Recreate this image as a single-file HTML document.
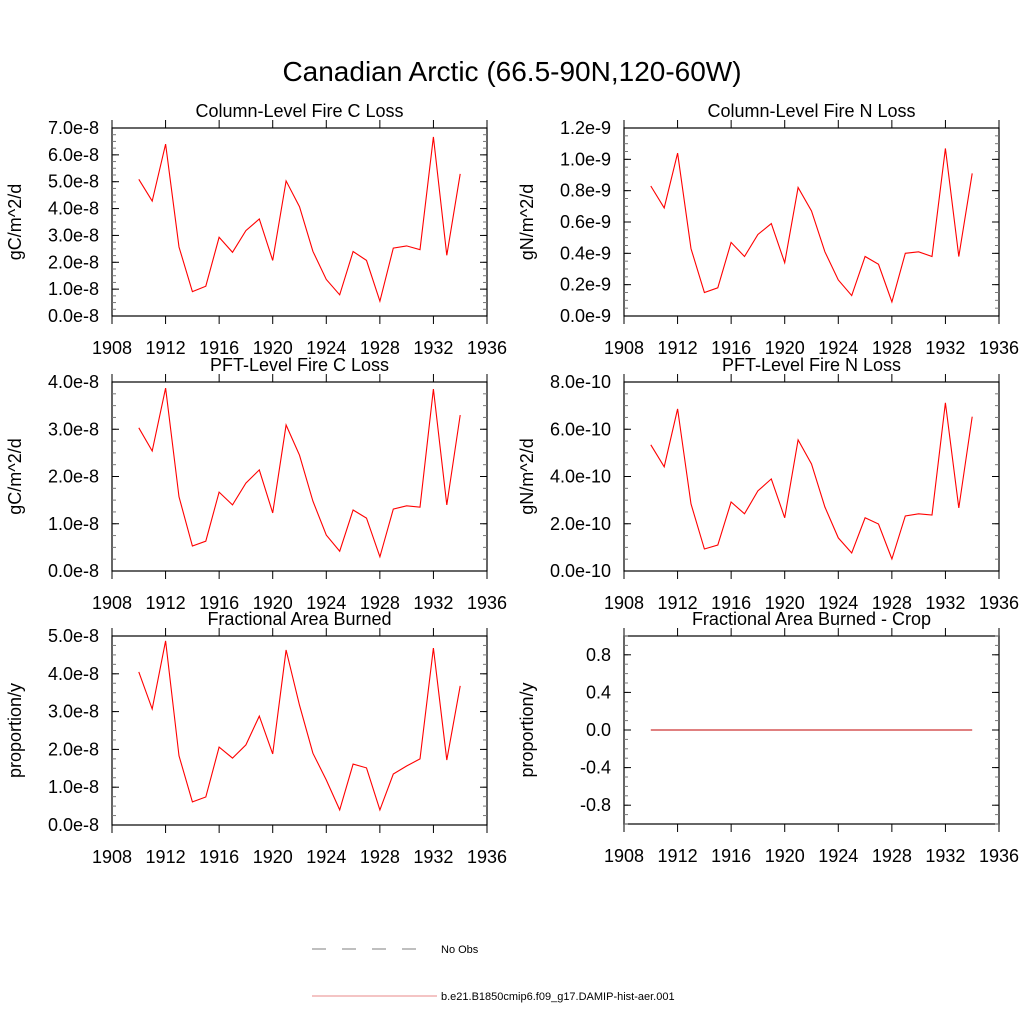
<!DOCTYPE html>
<html><head><meta charset="utf-8"><style>
body{margin:0;background:#fff;}
svg{display:block;font-family:"Liberation Sans",Arial,sans-serif;}
</style></head><body>
<svg id="c" width="1024" height="1024" viewBox="0 0 1024 1024">
<text x="512" y="81" font-size="28" text-anchor="middle">Canadian Arctic (66.5-90N,120-60W)</text>
<line x1="312" y1="949" x2="432" y2="949" stroke="#555" stroke-width="0.8" stroke-dasharray="14,16"/>
<text x="441" y="953" font-size="11">No Obs</text>
<line x1="312" y1="996" x2="437" y2="996" stroke="#e06060" stroke-width="0.8"/>
<text x="441" y="1000" font-size="11">b.e21.B1850cmip6.f09_g17.DAMIP-hist-aer.001</text>
</svg>
<script>
const years=[1910,1911,1912,1913,1914,1915,1916,1917,1918,1919,1920,1921,1922,1923,1924,1925,1926,1927,1928,1929,1930,1931,1932,1933,1934];
const colC=[5.09,4.28,6.40,2.57,0.91,1.11,2.93,2.37,3.18,3.61,2.07,5.03,4.07,2.41,1.36,0.79,2.40,2.07,0.55,2.53,2.61,2.47,6.67,2.26,5.29];
const colN=[0.83,0.69,1.04,0.43,0.15,0.18,0.47,0.38,0.52,0.59,0.34,0.82,0.67,0.41,0.23,0.13,0.38,0.33,0.09,0.40,0.41,0.38,1.07,0.38,0.91];
const pftC=[3.03,2.54,3.87,1.57,0.53,0.63,1.67,1.40,1.86,2.14,1.23,3.09,2.45,1.48,0.76,0.42,1.29,1.12,0.30,1.31,1.38,1.35,3.85,1.40,3.30];
const pftN=[5.34,4.41,6.86,2.84,0.93,1.10,2.92,2.42,3.39,3.90,2.25,5.55,4.53,2.71,1.40,0.76,2.25,1.99,0.51,2.33,2.42,2.37,7.12,2.67,6.53];
const fab=[4.05,3.07,4.87,1.83,0.61,0.74,2.06,1.77,2.12,2.88,1.88,4.63,3.17,1.90,1.19,0.40,1.61,1.51,0.40,1.35,1.56,1.75,4.68,1.72,3.68];
const crop=[0,0,0,0,0,0,0,0,0,0,0,0,0,0,0,0,0,0,0,0,0,0,0,0,0];
const xTicks=[1908,1912,1916,1920,1924,1928,1932,1936];
const ticksColC=["0.0e-8","1.0e-8","2.0e-8","3.0e-8","4.0e-8","5.0e-8","6.0e-8","7.0e-8"];
const ticksColN=["0.0e-9","0.2e-9","0.4e-9","0.6e-9","0.8e-9","1.0e-9","1.2e-9"];
const ticksPftC=["0.0e-8","1.0e-8","2.0e-8","3.0e-8","4.0e-8"];
const ticksPftN=["0.0e-10","2.0e-10","4.0e-10","6.0e-10","8.0e-10"];
const ticksFab=["0.0e-8","1.0e-8","2.0e-8","3.0e-8","4.0e-8","5.0e-8"];
const ticksCrop=["-0.8","-0.4","0.0","0.4","0.8"];
const svg=document.getElementById('c');
const NS="http://www.w3.org/2000/svg";
function mk(tag,attrs,parent){const e=document.createElementNS(NS,tag);for(const k in attrs)e.setAttribute(k,attrs[k]);(parent||svg).appendChild(e);return e;}
function panel(o){
 const g=mk('g',{});
 
 
 const L=o.x,R=o.x+375,T=o.y,B=o.y+o.h;
 const xs=v=>L+(v-1908)/(1936-1908)*(R-L);
 const ys=v=>B-(v-o.ymin)/(o.ymax-o.ymin)*(B-T);
 const fr=mk('rect',{x:L,y:T,width:R-L,height:B-T,fill:'none',stroke:'#000','stroke-width':1.2},g);
 
 
 xTicks.forEach(t=>{const x=xs(t);
  mk('line',{x1:x,y1:B,x2:x,y2:B+8,stroke:'#000','stroke-width':1},g);
  mk('line',{x1:x,y1:T,x2:x,y2:T-8,stroke:'#000','stroke-width':1},g);
  const tx=mk('text',{x:x,y:B+38,'font-size':18,'text-anchor':'middle'},g);tx.textContent=t;
  
  
 });
 for(let v=o.ymin;v<=o.ymax+1e-9;v+=o.minor){const y=ys(v);
  mk('line',{x1:L,y1:y,x2:L+4,y2:y,stroke:'#777','stroke-width':1},g);
  mk('line',{x1:R,y1:y,x2:R-4,y2:y,stroke:'#777','stroke-width':1},g);}
 o.labels.forEach((lab,i)=>{const v=o.tickVals[i];const y=ys(v);
  mk('line',{x1:L,y1:y,x2:L+7,y2:y,stroke:'#000','stroke-width':1},g);
  mk('line',{x1:R,y1:y,x2:R-7,y2:y,stroke:'#000','stroke-width':1},g);
  const tx=mk('text',{x:L-13,y:y+6,'font-size':18,'text-anchor':'end'},g);tx.textContent=lab;
  
  
 });
 const tt=mk('text',{x:(L+R)/2,y:T-11,'font-size':18,'text-anchor':'middle'},g);tt.textContent=o.title;
 
 
 const yt=mk('text',{x:0,y:0,'font-size':18,'text-anchor':'middle',transform:`translate(${L-91},${(T+B)/2}) rotate(-90)`},g);yt.textContent=o.ytitle;
 
 
 const pts=years.map((yr,i)=>xs(yr).toFixed(1)+','+ys(o.data[i]*o.scale).toFixed(1)).join(' ');
 const pl=mk('polyline',{points:pts,fill:'none',stroke:o.color||'#ff0000','stroke-width':1.1},g);
 
 
}
const rng=n=>Array.from({length:n},(_,i)=>i);
panel({name:'panel-column-fire-c-loss',x:112,y:128,h:188,ymin:0,ymax:7,minor:0.25,labels:ticksColC,tickVals:rng(8),data:colC,scale:1,title:'Column-Level Fire C Loss',ytitle:'gC/m^2/d'});
panel({name:'panel-column-fire-n-loss',x:624,y:128,h:188,ymin:0,ymax:1.2,minor:0.05,labels:ticksColN,tickVals:rng(7).map(i=>i*0.2),data:colN,scale:1,title:'Column-Level Fire N Loss',ytitle:'gN/m^2/d'});
panel({name:'panel-pft-fire-c-loss',x:112,y:382,h:189,ymin:0,ymax:4,minor:0.25,labels:ticksPftC,tickVals:rng(5),data:pftC,scale:1,title:'PFT-Level Fire C Loss',ytitle:'gC/m^2/d'});
panel({name:'panel-pft-fire-n-loss',x:624,y:382,h:189,ymin:0,ymax:8,minor:0.5,labels:ticksPftN,tickVals:rng(5).map(i=>i*2),data:pftN,scale:1,title:'PFT-Level Fire N Loss',ytitle:'gN/m^2/d'});
panel({name:'panel-fractional-area-burned',x:112,y:636,h:189,ymin:0,ymax:5,minor:0.25,labels:ticksFab,tickVals:rng(6),data:fab,scale:1,title:'Fractional Area Burned',ytitle:'proportion/y'});
panel({name:'panel-fractional-area-burned-crop',x:624,y:636,h:188,ymin:-1,ymax:1,minor:0.1,labels:ticksCrop,tickVals:[-0.8,-0.4,0,0.4,0.8],data:crop,scale:1,color:'#c00000',title:'Fractional Area Burned - Crop',ytitle:'proportion/y'});
</script>
</body></html>
